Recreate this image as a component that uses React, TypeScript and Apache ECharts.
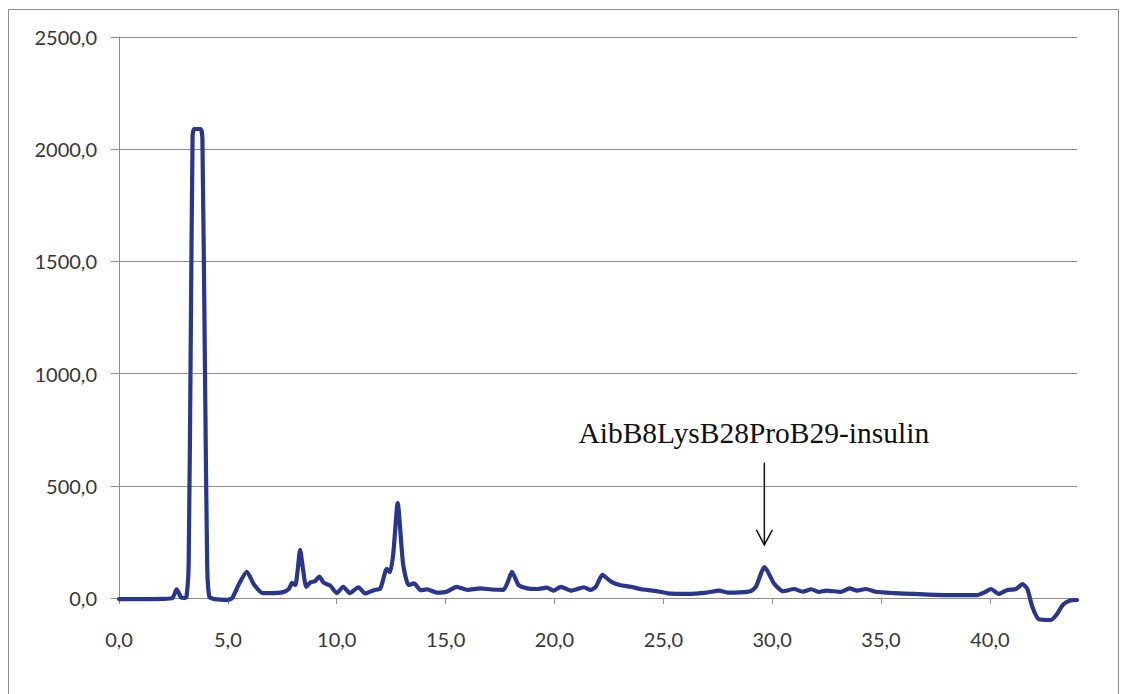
import React, { useEffect, useRef } from "react";
import * as echarts from "echarts";

// Retention time (min) and detector response of the chromatogram trace
const retentionTime = [
  0, 1, 2, 2.45, 2.65, 2.85, 3.0, 3.1, 3.2, 3.3, 3.38, 3.45, 3.75, 3.83, 3.95, 4.05, 4.15, 4.4,
  5.0, 5.2, 5.5, 5.87, 6.2, 6.6, 7.0, 7.5, 7.8, 7.95, 8.1, 8.2, 8.32, 8.45, 8.6, 8.8, 9.0, 9.2,
  9.4, 9.7, 10.0, 10.3, 10.6, 11.0, 11.3, 11.7, 12.0, 12.3, 12.45, 12.6, 12.8, 13.05, 13.3, 13.55,
  13.85, 14.15, 14.6, 15.05, 15.5, 16.0, 16.6, 17.1, 17.65, 17.85, 18.05, 18.35, 18.75, 19.2,
  19.65, 19.95, 20.3, 20.75, 21.35, 21.65, 21.9, 22.2, 22.6, 23.0, 23.5, 24.0, 24.6, 25.2, 26.1,
  27.0, 27.55, 27.95, 28.5, 29.0, 29.25, 29.65, 30.1, 30.5, 31.0, 31.4, 31.8, 32.15, 32.5, 33.15,
  33.55, 33.9, 34.3, 34.75, 35.6, 36.5, 37.9, 39.4, 39.75, 40.05, 40.4, 40.8, 41.2, 41.5, 41.72,
  41.95, 42.25, 42.8, 43.05, 43.35, 43.65, 44.0,
];

const response = [
  -5, -5, -4, 0, 38, 3, 0, 5, 150, 1200, 2060, 2090, 2090, 2050, 1000, 150, 5, -5,
  -8, 0, 60, 117, 60, 22, 22, 25, 40, 67, 58, 120, 215, 130, 50, 70, 75, 95,
  68, 55, 22, 50, 22, 48, 20, 35, 42, 130, 115, 200, 423, 150, 58, 65,
  35, 38, 24, 28, 50, 36, 43, 38, 36, 70, 117, 58, 43, 40,
  46, 33, 50, 33, 48, 36, 50, 103, 73, 58, 50, 39, 32, 21, 18,
  24, 33, 24, 25, 30, 50, 138, 62, 30, 40, 28, 39, 27, 33, 27,
  43, 33, 40, 28, 22, 18, 13, 13, 25, 40, 18, 36, 40, 62, 40,
  -40, -95, -98, -76, -31, -12, -9,
];

const xTickValues = [0, 5, 10, 15, 20, 25, 30, 35, 40];
const yTickStep = 500;
const yMax = 2500;
const xMax = 44;

// Annotated peak
const peakLabel = "AibB8LysB28ProB29-insulin";
const peakTime = 29.64;
const arrowTop = 603;
const arrowTip = 237;
const labelStartTime = 21.1;
const labelLevel = 737;

const fmt = (v: number) => v.toFixed(1).replace(".", ",");

export default function App() {
  const ref = useRef<HTMLDivElement>(null);

  useEffect(() => {
    if (!ref.current) return;
    const chart = echarts.init(ref.current, undefined, { renderer: "svg" });
    const gridColor = "#8c8c8c";
    const labelFont = { fontFamily: "Lato", fontSize: 20, color: "#363636" };

    chart.setOption({
      animation: false,
      backgroundColor: "#ffffff",
      grid: { left: 119, right: 44, top: 37, bottom: 96, containLabel: false },
      xAxis: {
        type: "value",
        min: 0,
        max: xMax,
        axisLine: { show: true, lineStyle: { color: gridColor, width: 1 } },
        axisTick: {
          show: true,
          inside: false,
          length: 6,
          customValues: xTickValues,
          lineStyle: { color: gridColor },
        },
        axisLabel: {
          ...labelFont,
          margin: 31,
          customValues: xTickValues,
          formatter: (v: number) => fmt(v),
        },
        splitLine: { show: false },
      },
      yAxis: {
        type: "value",
        min: 0,
        max: yMax,
        interval: yTickStep,
        axisLine: { show: true, lineStyle: { color: gridColor, width: 1 } },
        axisTick: { show: true, length: 8, lineStyle: { color: gridColor } },
        axisLabel: { ...labelFont, margin: 22, formatter: (v: number) => fmt(v) },
        splitLine: { show: true, lineStyle: { color: gridColor, width: 1 } },
      },
      series: [
        {
          type: "line",
          data: retentionTime.map((t, i) => [t, response[i]]),
          showSymbol: false,
          symbol: "none",
          clip: false,
          smooth: 0.2,
          lineStyle: { color: "#28368e", width: 4.2, join: "round", cap: "round" },
        },
      ],
    });

    const px = (x: number, y: number) =>
      chart.convertToPixel({ gridIndex: 0 }, [x, y]) as number[];
    const top = px(peakTime, arrowTop);
    const tip = px(peakTime, arrowTip);
    const lbl = px(labelStartTime, labelLevel);

    chart.setOption({
      graphic: [
        {
          type: "rect",
          shape: { x: 8.5, y: 9.5, width: 1110, height: 700 },
          style: { fill: "none", stroke: "#8c8c8c", lineWidth: 1 },
          silent: true,
        },
        {
          type: "line",
          shape: { x1: top[0], y1: top[1], x2: tip[0], y2: tip[1] },
          style: { stroke: "#111111", lineWidth: 1.5 },
        },
        {
          type: "polyline",
          shape: {
            points: [
              [tip[0] - 8, tip[1] - 15],
              [tip[0], tip[1]],
              [tip[0] + 8, tip[1] - 15],
            ],
          },
          style: { stroke: "#111111", lineWidth: 1.5, fill: "none" },
        },
        {
          type: "text",
          x: lbl[0],
          y: lbl[1],
          style: {
            text: peakLabel,
            fontFamily: "Liberation Serif",
            fontSize: 29.5,
            fill: "#111111",
            align: "left",
            verticalAlign: "middle",
          },
        },
      ],
    });

    return () => chart.dispose();
  }, []);

  return (
    <div
      ref={ref}
      style={{ position: "fixed", left: 0, top: 0, width: 1121, height: 694, background: "#fff" }}
    />
  );
}
